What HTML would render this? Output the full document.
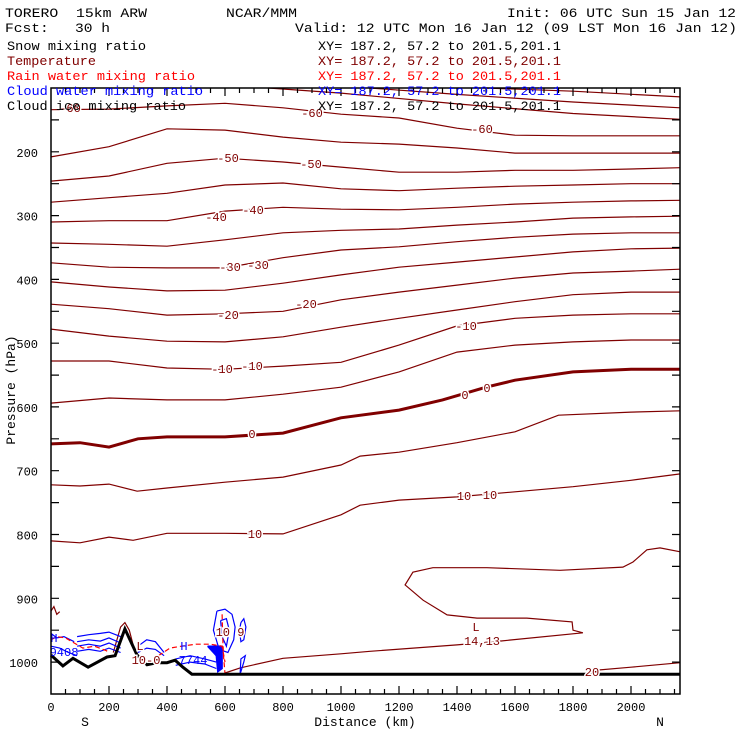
<!DOCTYPE html>
<html><head><meta charset="utf-8"><style>
html,body{margin:0;padding:0;background:#fff;}
svg{display:block;}
text{font-family:"Liberation Mono","DejaVu Sans Mono",monospace;}
#header text{white-space:pre;}
</style></head><body>
<svg id="chart" width="740" height="740" viewBox="0 0 740 740" xmlns="http://www.w3.org/2000/svg" xml:space="preserve">
<rect x="0" y="0" width="740" height="740" fill="#fff"/>
<g id="plot"></g>
<g id="axes"></g>
<g id="header">
<text x="5" y="17" font-size="13" textLength="142" lengthAdjust="spacingAndGlyphs">TORERO  15km ARW</text>
<text x="226" y="17" font-size="13" textLength="71" lengthAdjust="spacingAndGlyphs">NCAR/MMM</text>
<text x="507" y="17" font-size="13" textLength="229" lengthAdjust="spacingAndGlyphs">Init: 06 UTC Sun 15 Jan 12</text>
<text x="5" y="32" font-size="13" textLength="105" lengthAdjust="spacingAndGlyphs">Fcst:   30 h</text>
<text x="295" y="32" font-size="13" textLength="442" lengthAdjust="spacingAndGlyphs">Valid: 12 UTC Mon 16 Jan 12 (09 LST Mon 16 Jan 12)</text>
<text x="7" y="50" font-size="13" fill="#000" textLength="139" lengthAdjust="spacingAndGlyphs">Snow mixing ratio</text>
<text x="318" y="50" font-size="13" fill="#000" textLength="243" lengthAdjust="spacingAndGlyphs">XY= 187.2, 57.2 to 201.5,201.1</text>
<text x="7" y="65" font-size="13" fill="#800000" textLength="89" lengthAdjust="spacingAndGlyphs">Temperature</text>
<text x="318" y="65" font-size="13" fill="#800000" textLength="243" lengthAdjust="spacingAndGlyphs">XY= 187.2, 57.2 to 201.5,201.1</text>
<text x="7" y="80" font-size="13" fill="#ff0000" textLength="188" lengthAdjust="spacingAndGlyphs">Rain water mixing ratio</text>
<text x="318" y="80" font-size="13" fill="#ff0000" textLength="243" lengthAdjust="spacingAndGlyphs">XY= 187.2, 57.2 to 201.5,201.1</text>
<text x="7" y="95" font-size="13" fill="#0000ff" textLength="196" lengthAdjust="spacingAndGlyphs">Cloud water mixing ratio</text>
<text x="318" y="95" font-size="13" fill="#0000ff" textLength="243" lengthAdjust="spacingAndGlyphs">XY= 187.2, 57.2 to 201.5,201.1</text>
<text x="7" y="110" font-size="13" fill="#000" textLength="179" lengthAdjust="spacingAndGlyphs">Cloud ice mixing ratio</text>
<text x="318" y="110" font-size="13" fill="#000" textLength="243" lengthAdjust="spacingAndGlyphs">XY= 187.2, 57.2 to 201.5,201.1</text>
</g>
</svg>
<script>
// ---- data ----
const gridKm = [0,200,400,600,800,1000,1200,1400,1600,1800,2000,2170];
const isoU1 = {km:[1500,1800,2170], p:[100,105,114]};
const isoU2 = {km:[1100,1400,1800,2170], p:[100,110,122,131]};
const isoU3 = {km:[750,1000,1400,1800,2170], p:[100,108,125,140,149]};
const isoM60 = [134,133,128,124,131,141,147,163,174,175,175,175];
const isoM55 = [208,192,164,166,177,185,188,194,202,202,202,202];
const isoM50 = [246,238,218,210,216,224,232,232,229,229,227,225];
const isoM45 = [279,272,265,252,249,258,261,257,254,252,250,250];
const isoM40 = [310,308,308,293,287,290,291,287,282,279,277,276];
const isoM35 = [343,345,348,338,327,323,321,315,310,304,302,301];
const isoM30 = [374,381,382,382,366,354,349,341,334,329,327,327];
const isoM25 = [404,412,418,417,406,393,381,373,365,357,352,351];
const isoM20 = [439,446,456,454,450,432,420,409,398,390,387,384];
const isoM15 = [478,489,497,498,490,475,461,448,435,424,420,420];
const isoM10 = [528,528,539,541,536,530,503,473,461,456,454,454];
const isoM05 = [594,586,589,589,580,569,545,514,503,498,495,495];
const iso0Km = [0,100,200,300,400,600,800,1000,1200,1350,1500,1600,1800,2000,2170];
const iso0P  = [658,656,663,650,647,647,641,617,605,589,569,558,545,541,541];
const iso5Km = [0,100,200,297,400,600,800,1000,1066,1200,1400,1600,1750,2000,2170];
const iso5P  = [722,724,721,732,727,718,710,691,677,671,656,639,613,608,606];
const iso10Km = [0,100,200,283,400,600,800,1000,1066,1200,1400,1600,1800,2000,2170];
const iso10P  = [810,813,804,809,798,798,799,769,754,746,741,733,725,715,705];
const iso15Km = [600,652,800,1000,1100,1400,1548,1834,1800,1797,1641,1469,1366,1283,1221,1248,1317,1503,1755,1972,2007,2055,2100,2170];
const iso15P  = [1017,1009,994,987,983,973,967,954,950,937,931,931,926,903,879,859,852,852,856,851,843,824,821,827];
const iso20Km = [1848,2000,2170];
const iso20P  = [1014,1008,1001];
const isoPeakKm = [215,240,255,270,290];
const isoPeakP  = [985,945,938,950,985];
const isoCornerKm = [0,10,20,30];
const isoCornerP  = [920,913,925,921];
const terrainKm = [0,41,76,128,193,221,255,297,331,366,400,428,455,486,2170];
const terrainP  = [989,1006,994,1008,992,990,948,989,1004,1001,1001,997,1008,1019,1019];
const cloudKm = [
 [90,130,170,200,240],[90,130,170,200,240],[90,130,170,200,240],[90,130,170,200,240],
 [0,30,60,90],[0,20,45,80],[300,330,360,390],[300,330,360,390],
 [430,480,530,570],[430,480,530,570],
 [572,600,624,635,630,610,580,560,572],[585,605,615,605,590,585],
 [652,665,670,655,652],[655,665,672,665,655,650,655]
];
const cloudP = [
 [960,957,955,953,960],[968,965,967,962,970],[975,972,975,970,978],[983,980,983,978,985],
 [975,978,985,990],[955,962,960,968],[975,965,968,985],[985,978,980,990],
 [995,990,995,1000],[1005,1000,1003,1010],
 [920,917,925,945,965,985,980,950,920],[935,932,950,975,960,935],
 [1019,1000,990,995,1019],[938,932,945,965,968,950,938]
];
const cloudCoreKm = [540,590,590,575,570,560,540];
const cloudCoreP  = [975,975,1010,1015,990,985,975];
const rainKm = [[0,20,50,80,110,150,190,200],[370,410,450,500,550,590,600],[590,592,595,600]];
const rainP  = [[965,960,962,970,978,975,982,985],[990,978,975,972,972,975,1000],[925,960,990,1018]];
const xTickLabels = [0,200,400,600,800,1000,1200,1400,1600,1800,2000];
const yTickLabels = [200,300,400,500,600,700,800,900,1000];

// ---- scales ----
const X = km => 51 + km*0.29;
const Y = p => 88 + (p-100)*0.6379;
const NS = 'http://www.w3.org/2000/svg';
const plot = document.getElementById('plot');
const axes = document.getElementById('axes');
function mk(tag, parent){const e=document.createElementNS(NS,tag);parent.appendChild(e);return e;}
function line(kms, ps, color, width, name, dash){
  const e = mk('polyline', plot);
  e.setAttribute('points', kms.map((k,i)=>X(k).toFixed(1)+','+Y(ps[i]).toFixed(1)).join(' '));
  e.setAttribute('fill','none');
  e.setAttribute('stroke',color);
  e.setAttribute('stroke-width',width);
  if(dash) e.setAttribute('stroke-dasharray',dash);
  
  
  return e;
}
const DR = '#800000';
line(isoU1.km, isoU1.p, DR, 1.2, 'isotherm-upper-1');
line(isoU2.km, isoU2.p, DR, 1.2, 'isotherm-upper-2');
line(isoU3.km, isoU3.p, DR, 1.2, 'isotherm-upper-3');
const upper = [isoM60,isoM55,isoM50,isoM45,isoM40,isoM35,isoM30,isoM25,isoM20,isoM15,isoM10,isoM05];
const upperNames = ['m60','m55','m50','m45','m40','m35','m30','m25','m20','m15','m10','m05'];
upper.forEach((arr,i)=>{ line(gridKm, arr, DR, 1.2, 'isotherm-'+upperNames[i]); });
line(iso0Km, iso0P, DR, 3, 'isotherm-0');
line(iso5Km, iso5P, DR, 1.2, 'isotherm-5');
line(iso10Km, iso10P, DR, 1.2, 'isotherm-10');
line(iso15Km, iso15P, DR, 1.2, 'isotherm-15');
line(iso20Km, iso20P, DR, 1.2, 'isotherm-20');
line(isoPeakKm, isoPeakP, DR, 1.2, 'isotherm-peak');
line(isoCornerKm, isoCornerP, DR, 1.2, 'isotherm-corner');
cloudKm.forEach((k,i)=>{ line(k, cloudP[i], '#0000ff', 1.2, 'cloud-water-contour'); });
const core = line(cloudCoreKm, cloudCoreP, '#0000ff', 1.5, 'cloud-water-core');
core.setAttribute('fill','#0000ff');
rainKm.forEach((k,i)=>{ line(k, rainP[i], '#ff0000', 1.2, 'rain-contour', '5,3'); });
line(terrainKm, terrainP, '#000', 3, 'terrain');

// contour labels
const labs = [
 ['-60',70,112],['-60',312,117],['-60',482,133],['-50',228,162],['-50',311,168],
 ['-40',216,221],['-40',253,214],['-30',230,271],['-30',258,269],['-20',228,319],['-20',306,308],
 ['-10',222,373],['-10',252,370],['-10',466,330],['0',252,438],['0',465,399],['0',487,392],
 ['10',255,538],['10',464,500],['10',490,499],['20',592,676],['14,13',482,645],['L',476,631],
 ['L',140,650],['10-0',146,664],['10 9',230,636]
];
labs.forEach(l=>{
  const t = mk('text', plot);
  t.textContent = l[0];
  t.setAttribute('x', l[1]); t.setAttribute('y', l[2]);
  t.setAttribute('text-anchor','middle');
  t.setAttribute('font-size','12');
  t.setAttribute('font-family','Liberation Sans, sans-serif');
  t.setAttribute('fill', DR);
  t.setAttribute('stroke','#fff'); t.setAttribute('stroke-width','3'); t.setAttribute('paint-order','stroke');
  
  
});
const blabs = [['H',54,642],['9408',64,656],['H',184,650],['7744',193,664]];
blabs.forEach(l=>{
  const t = mk('text', plot);
  t.textContent = l[0];
  t.setAttribute('x', l[1]); t.setAttribute('y', l[2]);
  t.setAttribute('text-anchor','middle');
  t.setAttribute('font-size','12');
  t.setAttribute('font-family','Liberation Sans, sans-serif');
  t.setAttribute('fill', '#0000ff');
  
  
});

// frame & ticks
const fr = mk('rect', axes);
fr.setAttribute('x',51); fr.setAttribute('y',88); fr.setAttribute('width',629); fr.setAttribute('height',606);
fr.setAttribute('fill','none'); fr.setAttribute('stroke','#000'); fr.setAttribute('stroke-width','1.5');


let tp = '';
for(let k=50;k<2170;k+=50){
  const len = (k%200===0)?8:5;
  const x = X(k).toFixed(1);
  tp += `M${x},694V${694-len}M${x},88V${88+len}`;
}
for(let p=150;p<1050;p+=50){
  const y = Y(p).toFixed(1);
  tp += `M51,${y}H59M680,${y}H672`;
}
const ticks = mk('path', axes);
ticks.setAttribute('d', tp); ticks.setAttribute('stroke','#000'); ticks.setAttribute('stroke-width','1.2');


function txt(s,x,y,anchor,name,size){
  const t = mk('text', axes);
  t.textContent = s; t.setAttribute('x',x); t.setAttribute('y',y);
  t.setAttribute('text-anchor',anchor); t.setAttribute('font-size',size||13);
  t.setAttribute('font-family','Liberation Sans, sans-serif');
  
  
  return t;
}
xTickLabels.forEach(v=>{ txt(String(v), X(v), 711, 'middle', 'x-tick-label', 12); });
yTickLabels.forEach(v=>{ txt(String(v), 38, Y(v)+5, 'end', 'y-tick-label', 12); });
txt('Distance (km)', 365, 726, 'middle', 'x-axis-title', 13);
txt('S', 85, 726, 'middle', 'south-label', 13);
txt('N', 660, 726, 'middle', 'north-label', 13);
const yt = txt('Pressure (hPa)', 0, 0, 'middle', 'y-axis-title', 13);
yt.setAttribute('transform','translate(15,390) rotate(-90)');
</script>
</body></html>
